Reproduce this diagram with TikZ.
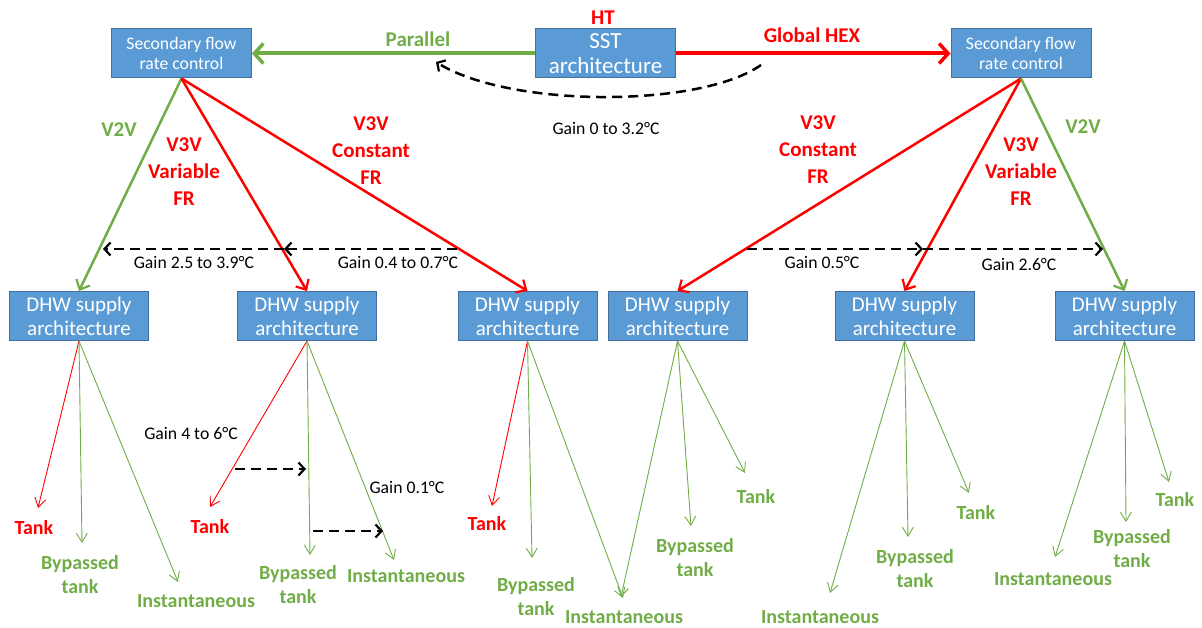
\documentclass[tikz,border=0pt]{standalone}
\usepackage{fontspec}
\setmainfont{Carlito}
\usetikzlibrary{arrows.meta}
\definecolor{boxfill}{RGB}{91,155,213}
\definecolor{boxdraw}{RGB}{65,113,156}
\definecolor{grn}{RGB}{112,173,71}
\definecolor{rd}{RGB}{255,0,0}
\begin{document}
\begin{tikzpicture}[x=1pt,y=-1pt,
  box/.style={draw=boxdraw, fill=boxfill, line width=1pt, text=white, align=center, inner sep=0pt, minimum height=49pt},
  ctlbox/.style={box, minimum width=140pt, font=\fontsize{17.7}{20.5}\selectfont},
  sstbox/.style={box, minimum width=140pt, font=\fontsize{23}{25}\selectfont},
  dhwbox/.style={box, minimum width=139pt, font=\fontsize{21}{24}\selectfont},
  biglbl/.style={font=\fontsize{21}{27}\selectfont\bfseries, align=center, inner sep=0pt},
  leaflbl/.style={font=\fontsize{20}{24}\selectfont\bfseries, align=center, inner sep=0pt},
  gainlbl/.style={font=\fontsize{17.7}{20}\selectfont, inner sep=0pt},
  toparrow/.style={line width=4pt, -{Straight Barb[length=9pt,width=20pt,line width=3.5pt]}},
  treearrow/.style={line width=2.5pt, -{Straight Barb[length=8pt,width=15pt,line width=2.2pt]}},
  leafarrow/.style={line width=0.9pt, -{Straight Barb[length=9pt,width=11pt,line width=0.9pt]}},
  gainarrow/.style={line width=2.5pt, dash pattern=on 10pt off 6pt, -{Straight Barb[length=6pt,width=13pt,line width=2.2pt]}}
]
\useasboundingbox (0,0) rectangle (1202,628);

% top boxes
\node[ctlbox] (sfl) at (181.5,53.5) {Secondary flow\\rate control};
\node[sstbox] (sst) at (605.5,53.5) {SST\\architecture};
\node[ctlbox] (sfr) at (1021,53.5) {Secondary flow\\rate control};

% DHW boxes
\node[dhwbox] (d1) at (79,316) {DHW supply\\architecture};
\node[dhwbox] (d2) at (307,316) {DHW supply\\architecture};
\node[dhwbox] (d3) at (527.5,316) {DHW supply\\architecture};
\node[dhwbox] (d4) at (677.5,316) {DHW supply\\architecture};
\node[dhwbox] (d5) at (904.5,316) {DHW supply\\architecture};
\node[dhwbox] (d6) at (1124.5,316) {DHW supply\\architecture};

% top arrows
\draw[toparrow, grn] (sst.west) -- (sfl.east);
\draw[toparrow, rd] (sst.east) -- (sfr.west);
\node[biglbl, text=rd] (ht) at (603,18) {HT};
\node[biglbl, text=grn] (par) at (418,39) {Parallel};
\node[biglbl, text=rd] (ghex) at (812,35) {Global HEX};
\coordinate (c0s) at (761,65);
\coordinate (c0e) at (436,62);
\draw[gainarrow] (c0s) .. controls (700,108) and (510,108) .. (c0e);
\node[gainlbl] (g0) at (606,128) {Gain 0 to 3.2°C};

% left tree
\draw[treearrow, grn] (sfl.south) -- (d1.north);
\draw[treearrow, rd] (sfl.south) -- (d2.north);
\draw[treearrow, rd] (sfl.south) -- (d3.north);
\node[biglbl, text=grn] (l1) at (119,130) {V2V};
\node[biglbl, text=rd] (l2) at (184,172) {V3V\\Variable\\FR};
\node[biglbl, text=rd] (l3) at (371,151) {V3V\\Constant\\FR};

% right tree
\draw[treearrow, rd] (sfr.south) -- (d4.north);
\draw[treearrow, rd] (sfr.south) -- (d5.north);
\draw[treearrow, grn] (sfr.south) -- (d6.north);
\node[biglbl, text=rd] (r3) at (818,150) {V3V\\Constant\\FR};
\node[biglbl, text=rd] (r2) at (1021,172) {V3V\\Variable\\FR};
\node[biglbl, text=grn] (r1) at (1083,127) {V2V};

% gain arrows between tree branches
\coordinate (ga) at (457,249);
\coordinate (gb) at (284,249);
\coordinate (gc) at (103,249);
\draw[gainarrow] (ga) -- (gb);
\draw[gainarrow] (gb) -- (gc);
\node[gainlbl] (g1) at (194,262) {Gain 2.5 to 3.9°C};
\node[gainlbl] (g2) at (398,262) {Gain 0.4 to 0.7°C};
\coordinate (gd) at (747,249);
\coordinate (ge) at (923,249);
\coordinate (gf) at (1103,249);
\draw[gainarrow] (gd) -- (ge);
\draw[gainarrow] (ge) -- (gf);
\node[gainlbl] (g3) at (822,262) {Gain 0.5°C};
\node[gainlbl] (g4) at (1019,264) {Gain 2.6°C};

% leaves DHW1
\coordinate (t1) at (38,508);
\coordinate (b1) at (82,543);
\coordinate (i1) at (178,582);
\draw[leafarrow, rd] (d1.south) -- (t1);
\draw[leafarrow, grn] (d1.south) -- (b1);
\draw[leafarrow, grn] (d1.south) -- (i1);
\node[leaflbl, text=rd] (tl1) at (34,528) {Tank};
\node[leaflbl, text=grn] (bl1) at (80,575) {Bypassed\\tank};
\node[leaflbl, text=grn] (il1) at (196,601) {Instantaneous};

% leaves DHW2
\coordinate (t2) at (210,507);
\coordinate (b2) at (310,555);
\coordinate (i2) at (394,560);
\draw[leafarrow, rd] (d2.south) -- (t2);
\draw[leafarrow, grn] (d2.south) -- (b2);
\draw[leafarrow, grn] (d2.south) -- (i2);
\node[leaflbl, text=rd] (tl2) at (210,527) {Tank};
\node[leaflbl, text=grn] (bl2) at (298,585) {Bypassed\\tank};
\node[leaflbl, text=grn] (il2) at (406,576) {Instantaneous};
\coordinate (h1s) at (235,469);
\coordinate (h1e) at (306,469);
\coordinate (h2s) at (313,531);
\coordinate (h2e) at (383,531);
\draw[gainarrow] (h1s) -- (h1e);
\draw[gainarrow] (h2s) -- (h2e);
\node[gainlbl] (g5) at (191,433) {Gain 4 to 6°C};
\node[gainlbl] (g6) at (407,487) {Gain 0.1°C};

% leaves DHW3
\coordinate (t3) at (492,506);
\coordinate (b3) at (532,558);
\coordinate (i3) at (623,598);
\draw[leafarrow, rd] (d3.south) -- (t3);
\draw[leafarrow, grn] (d3.south) -- (b3);
\draw[leafarrow, grn] (d3.south) -- (i3);
\node[leaflbl, text=rd] (tl3) at (487,524) {Tank};
\node[leaflbl, text=grn] (bl3) at (536,597) {Bypassed\\tank};
\node[leaflbl, text=grn] (il3) at (624,617) {Instantaneous};

% leaves DHW4
\coordinate (i4) at (621,597);
\coordinate (b4) at (691,526);
\coordinate (t4) at (745,473);
\draw[leafarrow, grn] (d4.south) -- (i4);
\draw[leafarrow, grn] (d4.south) -- (b4);
\draw[leafarrow, grn] (d4.south) -- (t4);
\node[leaflbl, text=grn] (bl4) at (695,558) {Bypassed\\tank};
\node[leaflbl, text=grn] (tl4) at (756,497) {Tank};

% leaves DHW5
\coordinate (i5) at (830,593);
\coordinate (b5) at (908,537);
\coordinate (t5) at (969,493);
\draw[leafarrow, grn] (d5.south) -- (i5);
\draw[leafarrow, grn] (d5.south) -- (b5);
\draw[leafarrow, grn] (d5.south) -- (t5);
\node[leaflbl, text=grn] (il5) at (820,617) {Instantaneous};
\node[leaflbl, text=grn] (bl5) at (915,569) {Bypassed\\tank};
\node[leaflbl, text=grn] (tl5) at (976,513) {Tank};

% leaves DHW6
\coordinate (i6) at (1055,557);
\coordinate (b6) at (1126,522);
\coordinate (t6) at (1169,482);
\draw[leafarrow, grn] (d6.south) -- (i6);
\draw[leafarrow, grn] (d6.south) -- (b6);
\draw[leafarrow, grn] (d6.south) -- (t6);
\node[leaflbl, text=grn] (il6) at (1053,579) {Instantaneous};
\node[leaflbl, text=grn] (bl6) at (1132,549) {Bypassed\\tank};
\node[leaflbl, text=grn] (tl6) at (1175,500) {Tank};
\end{tikzpicture}
\end{document}
